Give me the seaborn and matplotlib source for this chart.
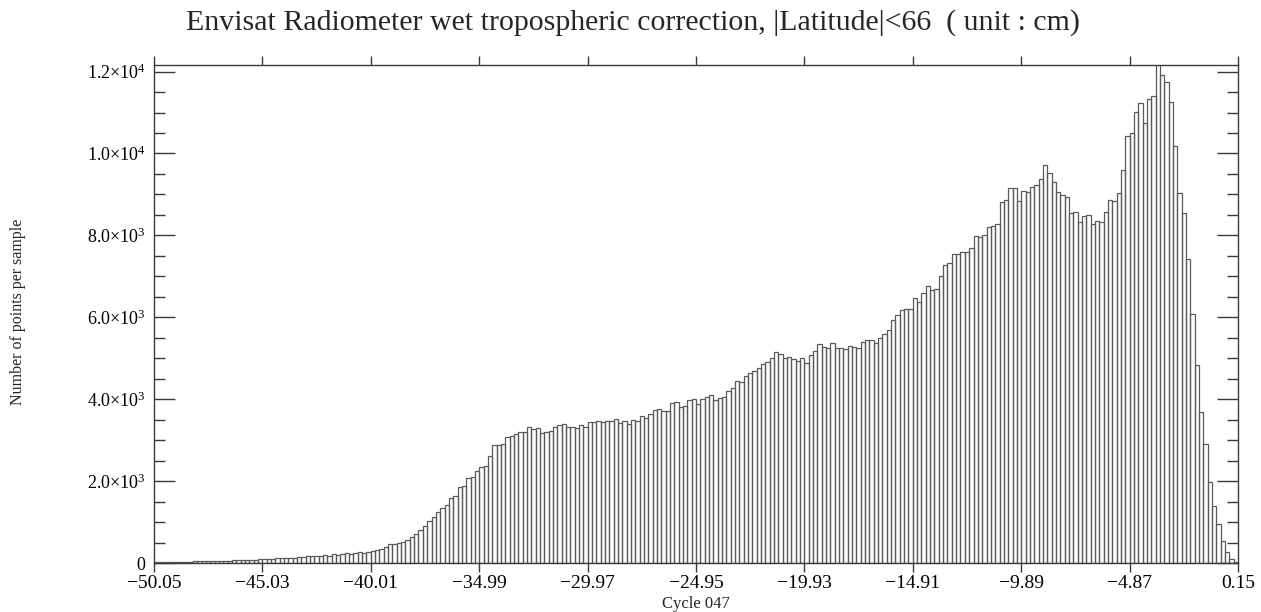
import numpy as np
import pandas as pd
import matplotlib
matplotlib.use("Agg")
import matplotlib.pyplot as plt
from matplotlib.ticker import MultipleLocator
import seaborn as sns

# === Data (250 bins) ===
X_MIN, X_MAX = -50.05, 0.15

counts = [
    25, 25, 28, 28, 30, 30, 30, 32, 35, 40,
    45, 50, 50, 45, 50, 55, 55, 60, 65, 70,
    75, 75, 80, 80, 90, 105, 95, 100, 110, 115,
    120, 125, 130, 140, 150, 160, 170, 165, 180, 190,
    175, 215, 200, 230, 240, 225, 250, 260, 240, 277,
    293, 310, 342, 383, 456, 456, 488, 521, 562, 635,
    700, 798, 912, 1034, 1115, 1254, 1335, 1425, 1579, 1644,
    1864, 1872, 2068, 2100, 2250, 2340, 2361, 2613, 2882, 2882,
    2907, 3078, 3102, 3159, 3192, 3192, 3322, 3265, 3290, 3175,
    3200, 3232, 3330, 3363, 3387, 3314, 3314, 3290, 3360, 3330,
    3436, 3436, 3476, 3444, 3476, 3476, 3525, 3420, 3476, 3387,
    3501, 3460, 3591, 3550, 3640, 3745, 3770, 3705, 3721, 3900,
    3933, 3803, 3827, 3981, 3997, 3876, 4014, 4047, 4112, 3981,
    4030, 4055, 4209, 4275, 4438, 4414, 4560, 4633, 4698, 4756,
    4869, 4902, 5007, 5161, 5098, 5007, 5024, 4983, 4934, 5007,
    4893, 5073, 5171, 5349, 5284, 5244, 5366, 5259, 5252, 5220,
    5308, 5284, 5244, 5406, 5454, 5446, 5366, 5488, 5601, 5691,
    5936, 6050, 6172, 6196, 6212, 6473, 6375, 6587, 6774, 6668,
    6684, 7010, 7279, 7335, 7540, 7556, 7589, 7605, 7686, 7987,
    7971, 8004, 8214, 8222, 8280, 8825, 8867, 9152, 9152, 8842,
    9086, 9070, 9192, 9226, 9387, 9721, 9526, 9300, 9055, 8989,
    8940, 8542, 8567, 8322, 8483, 8500, 8280, 8354, 8322, 8581,
    8859, 8843, 9030, 9599, 10430, 10496, 11024, 11229, 10740, 11326,
    11407, 12160, 11920, 11757, 11253, 10193, 9030, 8542, 7418, 6082,
    4836, 3681, 2907, 1971, 1400, 945, 537, 269, 98, 15,
]

x_tick_labels = ["\u221250.05", "\u221245.03", "\u221240.01", "\u221234.99", "\u221229.97",
                 "\u221224.95", "\u221219.93", "\u221214.91", "\u22129.89", "\u22124.87", "0.15"]
y_ticks = [0, 2000, 4000, 6000, 8000, 10000, 12000]
y_tick_labels = ["0", "2.0\u00d710$^{3}$", "4.0\u00d710$^{3}$", "6.0\u00d710$^{3}$",
                 "8.0\u00d710$^{3}$", "1.0\u00d710$^{4}$", "1.2\u00d710$^{4}$"]

TITLE = "Envisat Radiometer wet tropospheric correction, |Latitude|<66  ( unit : cm)"
XLABEL = "Cycle 047"
YLABEL = "Number of points per sample"

# === Style ===
sns.set_style("ticks")
plt.rcParams["font.family"] = ["Liberation Serif", "DejaVu Serif"]
plt.rcParams["mathtext.fontset"] = "custom"
plt.rcParams["mathtext.rm"] = "Liberation Serif"
plt.rcParams["mathtext.it"] = "Liberation Serif:italic"
plt.rcParams["axes.linewidth"] = 1.0
AX_COLOR = "#3a3a3a"

# bin centres carry the counts as weights
width = (X_MAX - X_MIN) / len(counts)
df = pd.DataFrame({
    "value": X_MIN + width * (np.arange(len(counts)) + 0.5),
    "count": counts,
})

fig = plt.figure(figsize=(12.61, 6.12), dpi=100)
ax = fig.add_axes([154 / 1261, 1 - 563 / 612, (1238 - 154) / 1261, (563 - 65) / 612])

sns.histplot(data=df, x="value", weights="count", bins=len(counts),
             binrange=(X_MIN, X_MAX), fill=False,
             color="#5a5a5a", linewidth=0.9, ax=ax)

ax.set_xlim(X_MIN, X_MAX)
ax.set_ylim(0, max(counts))

ax.set_xticks(np.linspace(X_MIN, X_MAX, len(x_tick_labels)))
ax.set_xticklabels(x_tick_labels)
ax.set_yticks(y_ticks)
ax.set_yticklabels(y_tick_labels)
ax.yaxis.set_minor_locator(MultipleLocator(500))

ax.tick_params(axis="x", which="both", direction="out", length=6.5, width=1.0,
               top=True, bottom=True, labelsize=14, pad=2, colors=AX_COLOR,
               labelcolor="black")
ax.tick_params(axis="y", which="major", direction="in", length=15, width=1.0,
               left=True, right=True, labelsize=13, pad=6, colors=AX_COLOR,
               labelcolor="black")
ax.tick_params(axis="y", which="minor", direction="in", length=8, width=1.0,
               left=True, right=True, colors=AX_COLOR)
for side in ["left", "right", "top", "bottom"]:
    ax.spines[side].set_visible(True)
    ax.spines[side].set_color(AX_COLOR)

ax.set_xlabel(XLABEL, fontsize=12)
ax.xaxis.set_label_coords(0.5, -0.066)
ax.set_ylabel("")
fig.text(18 / 1261, 1 - 312 / 612, YLABEL, rotation=90, ha="center", va="center",
         fontsize=11.5)
fig.text(0.502, 1 - 23 / 612, TITLE, ha="center", va="center", fontsize=21.5)

fig.savefig("out.png", dpi=100)
